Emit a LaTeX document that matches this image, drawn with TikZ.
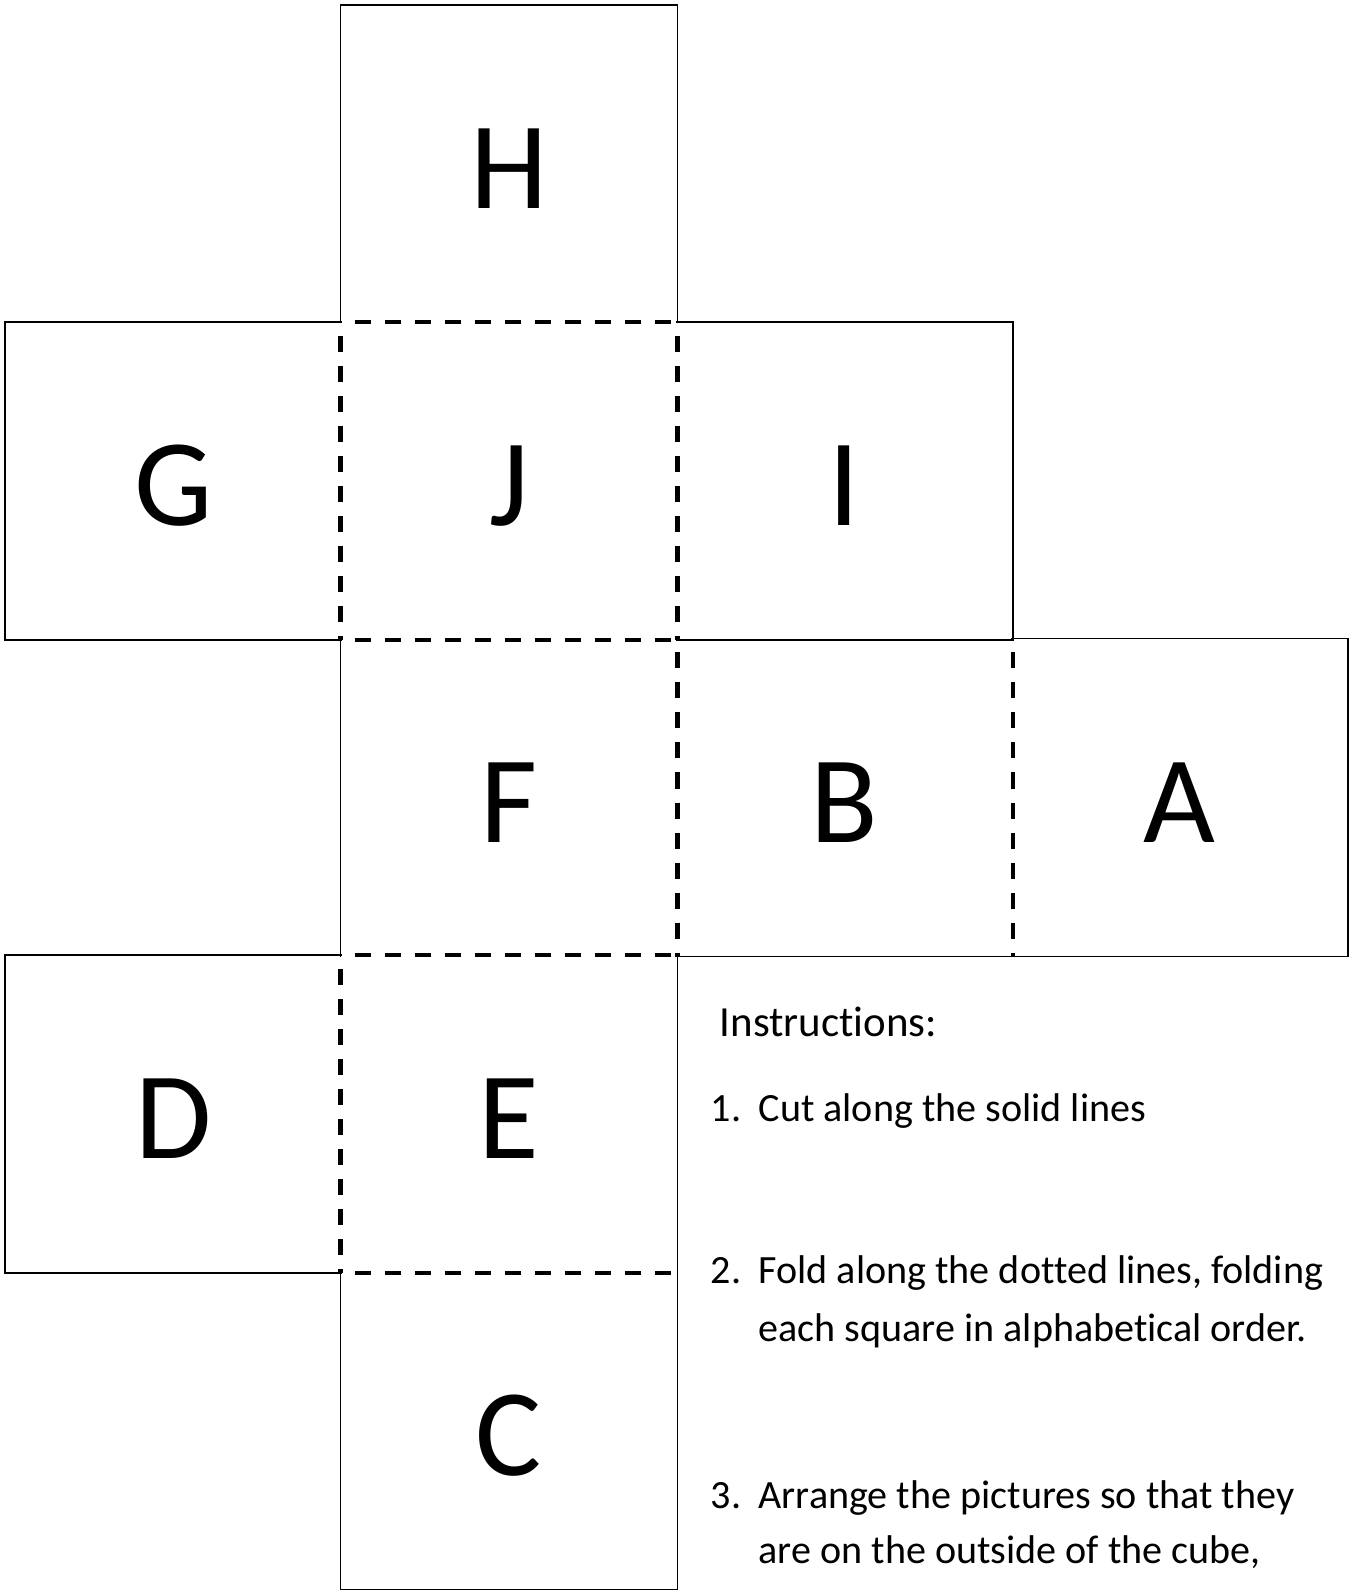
\documentclass[tikz,border=0pt]{standalone}
\usepackage{fontspec}
\setmainfont{Carlito}[Ligatures=NoCommon]
\usepackage{tikz}
\usetikzlibrary{positioning}
\tikzset{
  face/.style={minimum width=3.353cm,minimum height=3.166cm,inner sep=0pt,
    font=\fontsize{35.3pt}{35.3pt}\selectfont,text height=0.89cm,text depth=0pt},
  cutline/.style={line width=0.5pt,draw=black},
  foldline/.style={line width=1.25pt,draw=black,dash pattern=on 0.16cm off 0.14cm,dash phase=0.16cm},
  instr/.style={anchor=base west,inner sep=0pt,font=\fontsize{11.4pt}{13pt}\selectfont}
}

\begin{document}
\begin{tikzpicture}[x=0.01cm,y=-0.01cm]
  \useasboundingbox (0,0) rectangle (1355,1590);
  % faces of the net
  \node[face] (H) at (508.95,164.3) {H};
  \node[face] (G) at (173.65,480.9) {G};
  \node[face] (J) at (508.95,480.9) {J};
  \node[face] (I) at (844.25,480.9) {I};
  \node[face] (F) at (508.95,797.5) {F};
  \node[face] (B) at (844.25,797.5) {B};
  \node[face] (A) at (1179.55,797.5) {A};
  \node[face] (D) at (173.65,1114.1) {D};
  \node[face] (E) at (508.95,1114.1) {E};
  \node[face] (C) at (508.95,1430.7) {C};
  % cut lines
  \draw[cutline] (H.south west) -- (H.north west) -- (H.north east) -- (H.south east);
  \draw[cutline] (G.north east) -- (G.north west) -- (G.south west) -- (G.south east);
  \draw[cutline] (I.north west) -- (I.north east) -- (I.south east) -- (I.south west);
  \draw[cutline] (F.north west) -- (F.south west);
  \draw[cutline] (B.south west) -- (B.south east);
  \draw[cutline] (A.north west) -- (A.north east) -- (A.south east) -- (A.south west);
  \draw[cutline] (D.north east) -- (D.north west) -- (D.south west) -- (D.south east);
  \draw[cutline] (E.north east) -- (E.south east);
  \draw[cutline] (C.north west) -- (C.south west) -- (C.south east) -- (C.north east);
  % fold lines
  \draw[foldline] (J.north west) -- (J.north east);
  \draw[foldline] (J.north west) -- (J.south west);
  \draw[foldline] (J.north east) -- (J.south east);
  \draw[foldline] (J.south west) -- (J.south east);
  \draw[foldline] (F.north east) -- (F.south east);
  \draw[foldline] (B.north east) -- (B.south east);
  \draw[foldline] (E.north west) -- (E.north east);
  \draw[foldline] (E.north west) -- (E.south west);
  \draw[foldline] (E.south west) -- (E.south east);
  % instructions
  \node[instr,font=\fontsize{12.2pt}{14pt}\selectfont] (title) at (719,1036.7) {Instructions:};
  \node[instr] (num1) at (710,1121.7) {1.};
  \node[instr] (txt1) at (758,1121.7) {Cut along the solid lines};
  \node[instr] (num2) at (710,1283.3) {2.};
  \node[instr] (txt2a) at (758,1283.3) {Fold along the dotted lines, folding};
  \node[instr] (txt2b) at (758,1341.7) {each square in alphabetical order.};
  \node[instr] (num3) at (710,1508.3) {3.};
  \node[instr] (txt3a) at (758,1508.3) {Arrange the pictures so that they};
  \node[instr] (txt3b) at (758,1563.3) {are on the outside of the cube,};
\end{tikzpicture}
\end{document}
